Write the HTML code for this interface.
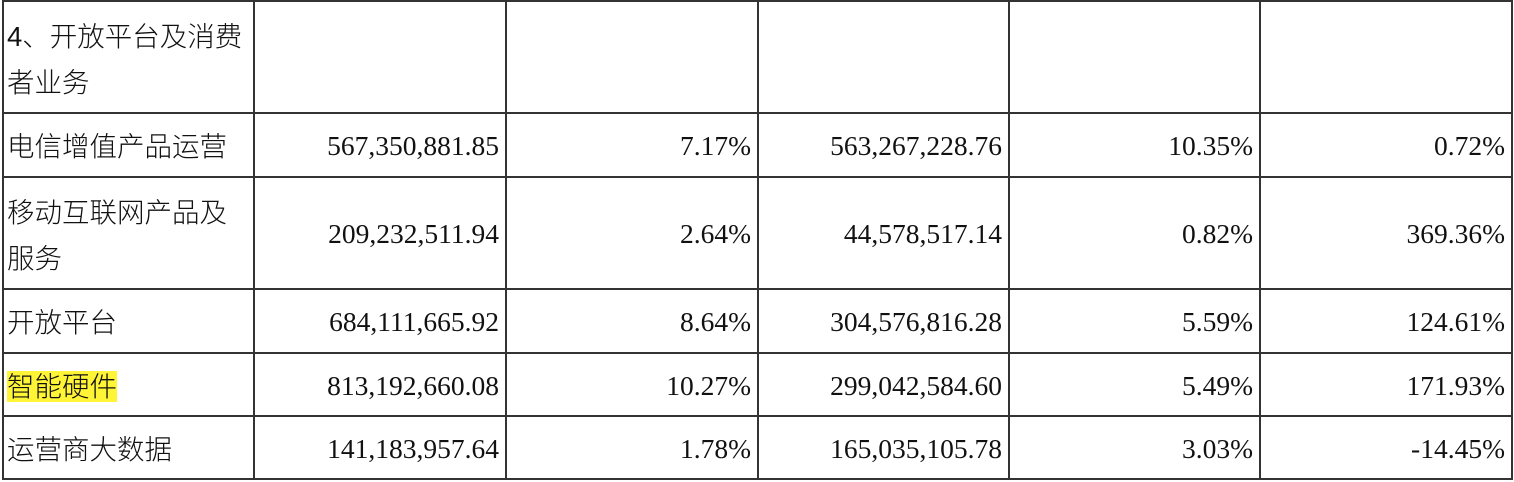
<!DOCTYPE html>
<html><head><meta charset="utf-8"><style>
body{margin:0;width:1514px;height:482px;background:#fff;position:relative;overflow:hidden;font-family:"Liberation Serif","Noto Serif CJK SC",serif;color:#111}
.h{position:absolute;left:2px;width:1511px;height:2px;background:#333}
.v{position:absolute;top:0;width:2px;height:480px;background:#333}
.c{position:absolute;font-size:27.5px;line-height:42px;white-space:nowrap}
.l{font-family:"Liberation Sans","Noto Sans CJK SC",sans-serif;font-size:27.5px;font-weight:300}
.r{text-align:right}
.hl{background:#fff536}
</style></head><body>
<div class="h" style="top:0"></div>
<div class="h" style="top:112px"></div>
<div class="h" style="top:176px"></div>
<div class="h" style="top:288px"></div>
<div class="h" style="top:352px"></div>
<div class="h" style="top:415px"></div>
<div class="h" style="top:478px"></div>
<div class="v" style="left:2px"></div>
<div class="v" style="left:253px"></div>
<div class="v" style="left:505px"></div>
<div class="v" style="left:757px"></div>
<div class="v" style="left:1008px"></div>
<div class="v" style="left:1259px"></div>
<div class="v" style="left:1511px"></div>
<div id="cells"></div>
<script>
const labels=[["4、开放平台及消费","者业务"],["电信增值产品运营"],["移动互联网产品及","服务"],["开放平台"],["智能硬件"],["运营商大数据"]];
const amountCur=["","567,350,881.85","209,232,511.94","684,111,665.92","813,192,660.08","141,183,957.64"];
const shareCur=["","7.17%","2.64%","8.64%","10.27%","1.78%"];
const amountPrev=["","563,267,228.76","44,578,517.14","304,576,816.28","299,042,584.60","165,035,105.78"];
const sharePrev=["","10.35%","0.82%","5.59%","5.49%","3.03%"];
const growth=["","0.72%","369.36%","124.61%","171.93%","-14.45%"];
const rowTop=[0,112,176,288,352,415,478];
const colL=[2,253,505,757,1008,1259,1511];
const cont=document.getElementById('cells');
for(let i=0;i<labels.length;i++){
  const top=rowTop[i],h=rowTop[i+1]-top;
  const lab=document.createElement('div');
  
  
  lab.className='c l';
  const n=labels[i].length;
  lab.style.left=(colL[0]+5)+'px';
  lab.style.top=(top+2+(h-44*n)/2)+'px';
  lab.style.lineHeight='46px';
  lab.innerHTML=labels[i].map(s=>i===4?'<span class="hl">'+s+'</span>':s).join('<br>');
  cont.appendChild(lab);
  const vals=[amountCur[i],shareCur[i],amountPrev[i],sharePrev[i],growth[i]];
  vals.forEach((v,j)=>{
    const d=document.createElement('div');
    
    
    d.className='c r';
    d.style.left=colL[j+1]+'px';
    d.style.width=(colL[j+2]-colL[j+1]-6)+'px';
    d.style.top=(top+2+(h-42)/2)+'px';
    d.textContent=v;
    cont.appendChild(d);
  });
}
</script>
</body></html>
